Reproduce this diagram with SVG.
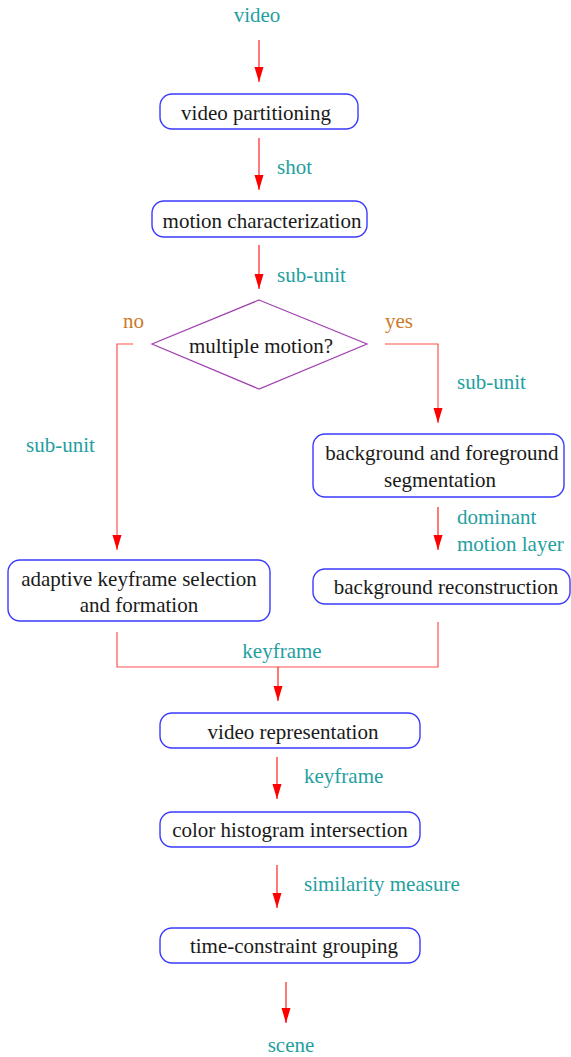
<svg xmlns="http://www.w3.org/2000/svg" width="571" height="1057" viewBox="0 0 571 1057">
<style>
.box{fill:#fff;stroke:#3a3aff;stroke-width:1.4}
.dia{fill:#fff;stroke:#a040b0;stroke-width:1.2}
text{font-family:'Liberation Serif','Times New Roman',Times,'DejaVu Serif',serif;font-size:21px}
.t{fill:#1a1a1a;text-anchor:middle}
.lbl{fill:#1fa0a0}
.yn{fill:#cc7a29}
.c{fill:none;stroke:#ff2020;stroke-width:1.2}
.c2{fill:none;stroke:#ff5050;stroke-width:1.2}
</style>
<defs>
<marker id="ah" markerUnits="userSpaceOnUse" markerWidth="15" markerHeight="10" refX="15" refY="4.5" orient="auto">
<path d="M0,0 L15,4.5 L0,9 z" fill="#ff0000"/>
</marker>
</defs>
<g id="connectors">
<path class="c" d="M259,40 V82" marker-end="url(#ah)"/>
<path class="c" d="M259,138 V190" marker-end="url(#ah)"/>
<path class="c" d="M259,245 V289" marker-end="url(#ah)"/>
<path class="c2" d="M133,344 H117 V550" marker-end="url(#ah)"/>
<path class="c2" d="M385,344 H438 V423" marker-end="url(#ah)"/>
<path class="c" d="M438,507 V550" marker-end="url(#ah)"/>
<path class="c2" d="M117,632 V667 H438 V622"/>
<path class="c" d="M278,667 V701" marker-end="url(#ah)"/>
<path class="c" d="M277,757 V799" marker-end="url(#ah)"/>
<path class="c" d="M277,865 V908" marker-end="url(#ah)"/>
<path class="c" d="M286,982 V1023" marker-end="url(#ah)"/>
<text class="lbl" x="257" y="22" text-anchor="middle">video</text>
<text class="lbl" x="277" y="174">shot</text>
<text class="lbl" x="277" y="282">sub-unit</text>
<text class="yn" x="123" y="328">no</text>
<text class="yn" x="385" y="328">yes</text>
<text class="lbl" x="457" y="389">sub-unit</text>
<text class="lbl" x="26" y="452">sub-unit</text>
<text class="lbl" x="457" y="524">dominant</text>
<text class="lbl" x="457" y="551">motion layer</text>
<text class="lbl" x="282" y="658" text-anchor="middle">keyframe</text>
<text class="lbl" x="304" y="783">keyframe</text>
<text class="lbl" x="304" y="891">similarity measure</text>
<text class="lbl" x="291" y="1052" text-anchor="middle">scene</text>
</g>
<g id="n1"><rect class="box" x="160" y="94" width="198" height="35" rx="12"/><text class="t" x="256" y="120">video partitioning</text></g>
<g id="n2"><rect class="box" x="152" y="201" width="215" height="36" rx="12"/><text class="t" x="262" y="228">motion characterization</text></g>
<g id="n3"><polygon class="dia" points="259,300 367,344 259,389 152,344"/><text class="t" x="261" y="353">multiple motion?</text></g>
<g id="n4"><rect class="box" x="313" y="434" width="251" height="63" rx="12"/><text class="t" x="442" y="460">background and foreground</text><text class="t" x="440" y="487">segmentation</text></g>
<g id="n5"><rect class="box" x="313" y="569" width="257" height="35" rx="12"/><text class="t" x="446" y="594">background reconstruction</text></g>
<g id="n6"><rect class="box" x="8" y="560" width="262" height="61" rx="12"/><text class="t" x="139" y="586">adaptive keyframe selection</text><text class="t" x="139" y="612">and formation</text></g>
<g id="n7"><rect class="box" x="160" y="713" width="260" height="35" rx="12"/><text class="t" x="293" y="739">video representation</text></g>
<g id="n8"><rect class="box" x="160" y="812" width="260" height="35" rx="12"/><text class="t" x="290" y="837">color histogram intersection</text></g>
<g id="n9"><rect class="box" x="160" y="928" width="260" height="35" rx="12"/><text class="t" x="294" y="953">time-constraint grouping</text></g>
</svg>
